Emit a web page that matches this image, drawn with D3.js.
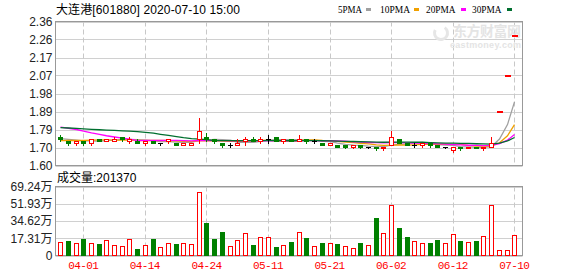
<!DOCTYPE html>
<html>
<head>
<meta charset="utf-8">
<script src="https://cdn.jsdelivr.net/npm/d3@7"></script>
<style>
  body { margin: 0; background: #fff; }
  svg { display: block; font-family: "Liberation Sans", "Noto Sans CJK SC", sans-serif; }
</style>
</head>
<body>
<svg width="578" height="276"></svg>
<script>
// closes of the 29 sessions before the window (only seen through where the MA lines start)
var prevCloses = [1.78, 1.79, 1.80, 1.81, 1.80, 1.79, 1.80, 1.81, 1.79, 1.79,
                  1.83, 1.86, 1.90, 1.92, 1.89, 1.88, 1.87, 1.86, 1.84, 1.88,
                  1.71, 1.72, 1.73, 1.72, 1.72, 1.74, 1.75, 1.74, 1.74];

var opens  = [1.75,1.73,1.72,1.73,1.72,1.74,1.73,1.73,1.75,1.73, 1.73,1.72,1.73,1.72,1.73,1.72,1.71,1.71,1.74,1.75,
              1.74,1.72,1.71,1.71,1.73,1.74,1.73,1.74,1.75,1.73, 1.74,1.73,1.74,1.73,1.72,1.71,1.71,1.71,1.70,1.71,
              1.70,1.70,1.69,1.71,1.74,1.72,1.71,1.71,1.72,1.71, 1.70,1.68,1.70,1.69,1.70,1.69,1.70,1.89,2.08,2.29];
var highs  = [1.76,1.73,1.73,1.73,1.74,1.74,1.74,1.75,1.75,1.75, 1.74,1.73,1.73,1.72,1.74,1.72,1.72,1.72,1.85,1.77,
              1.74,1.72,1.72,1.74,1.75,1.75,1.75,1.76,1.75,1.74, 1.74,1.76,1.74,1.74,1.72,1.72,1.71,1.71,1.71,1.71,
              1.70,1.70,1.70,1.78,1.74,1.72,1.72,1.72,1.72,1.71, 1.70,1.70,1.70,1.70,1.70,1.70,1.75,1.89,2.08,2.29];
var lows   = [1.73,1.71,1.71,1.71,1.71,1.73,1.73,1.73,1.73,1.72, 1.72,1.71,1.72,1.71,1.72,1.71,1.71,1.71,1.72,1.73,
              1.72,1.70,1.70,1.71,1.71,1.73,1.72,1.72,1.73,1.72, 1.73,1.73,1.72,1.72,1.71,1.71,1.70,1.69,1.69,1.69,
              1.69,1.68,1.68,1.71,1.72,1.71,1.70,1.70,1.70,1.70, 1.69,1.67,1.68,1.69,1.69,1.68,1.70,1.89,2.08,2.29];
var closes = [1.74,1.72,1.73,1.72,1.74,1.73,1.74,1.74,1.74,1.74, 1.72,1.73,1.72,1.72,1.74,1.71,1.72,1.72,1.78,1.74,
              1.73,1.71,1.71,1.72,1.74,1.73,1.74,1.74,1.73,1.74, 1.73,1.74,1.73,1.73,1.71,1.72,1.70,1.70,1.71,1.70,
              1.70,1.69,1.70,1.75,1.72,1.71,1.71,1.72,1.71,1.70, 1.70,1.70,1.69,1.70,1.69,1.70,1.72,1.89,2.08,2.29];
var volumes = [140000,150000,130000,170000,130000,120000,157000,110000,97000,167000,
               70000,110000,170000,87000,127000,120000,130000,120000,640000,330000,
               170000,240000,97000,157000,230000,110000,187000,187000,90000,107000,
               140000,240000,173000,97000,130000,130000,120000,100000,77000,130000,
               110000,373000,230000,507000,280000,190000,150000,130000,123000,160000,
               130000,220000,143000,140000,150000,197000,507000,60000,60000,201370];

var tickIdx = [3, 11, 19, 27, 35, 43, 51, 59];
var tickLabels = ["04-01", "04-14", "04-24", "05-11", "05-21", "06-02", "06-12", "07-10"];
var priceTicks = [1.60, 1.695, 1.79, 1.885, 1.98, 2.075, 2.17, 2.265, 2.36];
var priceLabels = ["1.60", "1.70", "1.79", "1.89", "1.98", "2.07", "2.17", "2.26", "2.36"];
var volTicks = [0, 173100, 346200, 519300, 692400];
var volLabels = ["0", "17.31万", "34.62万", "51.93万", "69.24万"];

var maDays = [5, 10, 20, 30];
var maColors = ["#a0a0a0", "#f0a000", "#ff00ff", "#006f2f"];

var RED = "#ff0000", GREEN = "#008000";

var svg = d3.select("svg");
var left = 55.5, right = 522.5;

var x = d3.scaleBand().domain(d3.range(closes.length)).range([56.35, 518.1]);
var cx = function(i) { return Math.round(x(i) + x.bandwidth() / 2) + 0.5; };
var y = d3.scaleLinear().domain([1.60, 2.36]).range([165.5, 21.5]);
var yv = d3.scaleLinear().domain([0, 692400]).range([255.5, 186.5]);

function prevClose(i) { return i > 0 ? closes[i - 1] : prevCloses[prevCloses.length - 1]; }

// candle colour: by open/close, a flat candle by the change on the day before
function dir(i) {
    if (closes[i] > opens[i]) return 1;
    if (closes[i] < opens[i]) return -1;
    var pc = prevClose(i);
    return closes[i] > pc ? 1 : closes[i] < pc ? -1 : 0;
}

// title + legend
svg.append("text").attr("x", 56).attr("y", 14).attr("font-size", 12).attr("fill", "#000")
    .attr("textLength", 184).attr("lengthAdjust", "spacing")
    .text("大连港[601880] 2020-07-10 15:00");

var legX = [338, 380, 426, 472], legW = [24, 30, 29.5, 29.5], legBox = [366, 414, 461, 507];
maDays.forEach(function(n, k) {
    svg.append("text").attr("x", legX[k]).attr("y", 13)
        .attr("font-size", 11).attr("font-family", "Liberation Serif, serif").attr("fill", "#000")
        .attr("textLength", legW[k]).attr("lengthAdjust", "spacingAndGlyphs")
        .text(n + "PMA");
    svg.append("rect").attr("x", legBox[k]).attr("y", 8).attr("width", 5).attr("height", 3)
        .attr("fill", maColors[k]);
});

// grid
function hgrid(vals, sc) {
    svg.append("g").selectAll("line").data(vals).enter().append("line")
        .attr("x1", left).attr("x2", right)
        .attr("y1", function(d) { return Math.round(sc(d)) + 0.5; })
        .attr("y2", function(d) { return Math.round(sc(d)) + 0.5; })
        .attr("stroke", "#d0d0d0");
}
hgrid(priceTicks, y);
hgrid(volTicks, yv);

[[21.5, 165.5], [186.5, 255.5]].forEach(function(r) {
    svg.append("g").selectAll("line").data(tickIdx).enter().append("line")
        .attr("x1", function(d) { return cx(d); }).attr("x2", function(d) { return cx(d); })
        .attr("y1", r[0]).attr("y2", r[1])
        .attr("stroke", "#c8c8c8").attr("stroke-dasharray", "5,3");
    svg.append("rect").attr("x", left).attr("y", r[0]).attr("width", right - left).attr("height", r[1] - r[0])
        .attr("fill", "none").attr("stroke", "#999");
});

// watermark
svg.append("path").attr("d", d3.arc()({innerRadius: 5, outerRadius: 8, startAngle: 0.6, endAngle: 5.2}))
    .attr("transform", "translate(441,33)").attr("fill", "#e6e6e6");
svg.append("text").attr("x", 453).attr("y", 36).attr("font-size", 14).attr("font-weight", "bold")
    .attr("font-family", "Noto Sans CJK SC").attr("fill", "#e4e4e4")
    .attr("textLength", 68).text("东方财富网");
svg.append("text").attr("x", 450).attr("y", 48).attr("font-size", 9).attr("font-weight", "bold")
    .attr("fill", "#e4e4e4").attr("textLength", 71).text("eastmoney.com");

// axes labels
var yAxis = d3.axisLeft(y).tickValues(priceTicks).tickSize(0).tickPadding(3)
    .tickFormat(function(d, i) { return priceLabels[i]; });
svg.append("g").attr("transform", "translate(" + left + ",0)").call(yAxis)
    .call(function(g) { g.select(".domain").remove(); })
    .selectAll("text").attr("font-size", 12).attr("font-family", "Liberation Sans").attr("fill", "#222");

var vAxis = d3.axisLeft(yv).tickValues(volTicks).tickSize(0).tickPadding(3)
    .tickFormat(function(d, i) { return volLabels[i]; });
svg.append("g").attr("transform", "translate(" + left + ",0)").call(vAxis)
    .call(function(g) { g.select(".domain").remove(); })
    .selectAll("text").attr("font-size", 12).attr("font-family", "Liberation Sans, Noto Sans CJK SC").attr("fill", "#222");

var xAxis = d3.axisBottom(x).tickValues(tickIdx).tickSize(0).tickPadding(5)
    .tickFormat(function(d, i) { return tickLabels[i]; });
svg.append("g").attr("transform", "translate(0,256)").call(xAxis)
    .call(function(g) { g.select(".domain").remove(); })
    .selectAll("text").attr("font-size", 11).attr("font-family", "Liberation Mono").attr("fill", RED)
    .attr("letter-spacing", "-0.6");

svg.append("text").attr("x", 57).attr("y", 182).attr("font-size", 12).attr("fill", "#000")
    .text("成交量:" + volumes[volumes.length - 1]);

// moving averages
var all = prevCloses.concat(closes);
var off = prevCloses.length;
maDays.forEach(function(n, k) {
    var pts = closes.map(function(c, i) {
        return d3.mean(all.slice(off + i - n + 1, off + i + 1));
    });
    svg.append("path").datum(pts)
        .attr("fill", "none").attr("stroke", maColors[k]).attr("stroke-width", 1.3)
        .attr("d", d3.line().x(function(d, i) { return cx(i); }).y(function(d) { return y(d); }));
});

// candles
var bw = 5;
var cg = svg.append("g").attr("shape-rendering", "crispEdges");
closes.forEach(function(c, i) {
    var dd = dir(i), col = dd > 0 ? RED : dd < 0 ? GREEN : "#000";
    var xc = cx(i);
    var top = Math.round(y(Math.max(opens[i], c))), bot = Math.round(y(Math.min(opens[i], c)));
    if (highs[i] === lows[i]) {
        // one-price day: a short bar only
        cg.append("rect").attr("x", xc - 3).attr("y", top - 0.5).attr("width", bw + 1).attr("height", 2).attr("fill", col);
        return;
    }
    cg.append("line").attr("x1", xc).attr("x2", xc)
        .attr("y1", Math.round(y(highs[i]))).attr("y2", Math.round(y(lows[i])) + 1).attr("stroke", col);
    if (bot - top < 1) {
        cg.append("rect").attr("x", xc - 2.5).attr("y", top).attr("width", bw).attr("height", 1).attr("fill", col);
    } else if (c > opens[i]) {
        cg.append("rect").attr("x", xc - 2).attr("y", top + 0.5).attr("width", bw - 1).attr("height", bot - top)
            .attr("fill", "#fff").attr("stroke", col);
    } else {
        cg.append("rect").attr("x", xc - 2.5).attr("y", top).attr("width", bw).attr("height", bot - top + 1)
            .attr("fill", col);
    }
});

// volume bars: red when the close is not below the previous close
var vg = svg.append("g").attr("shape-rendering", "crispEdges");
volumes.forEach(function(v, i) {
    var up = closes[i] >= prevClose(i);
    var xc = cx(i), top = Math.round(yv(v));
    if (up) {
        vg.append("rect").attr("x", xc - 2).attr("y", top + 0.5).attr("width", bw - 1).attr("height", 255.5 - top - 0.5)
            .attr("fill", "#fff").attr("stroke", RED);
    } else {
        vg.append("rect").attr("x", xc - 2.5).attr("y", top).attr("width", bw).attr("height", 255.5 - top)
            .attr("fill", GREEN);
    }
});
</script>
</body>
</html>
